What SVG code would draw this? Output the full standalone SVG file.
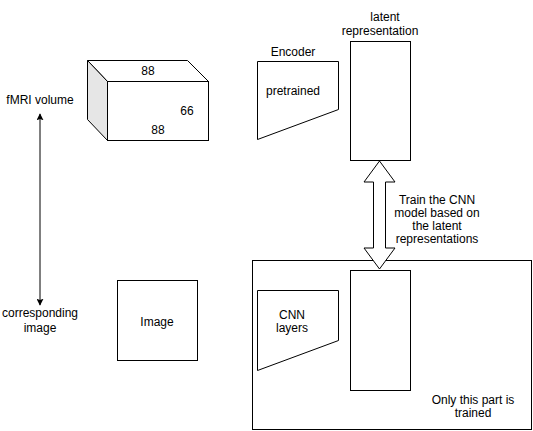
<svg xmlns="http://www.w3.org/2000/svg" width="533" height="431" viewBox="0 0 533 431">
<defs>
<style>
.s{fill:#fff;stroke:#000;stroke-width:1}
text{font-family:"Liberation Sans",Arial,sans-serif;font-size:12px;fill:#000;text-anchor:middle}
</style>
<marker id="ah" viewBox="0 0 10 10" refX="9" refY="5" markerWidth="7" markerHeight="7" orient="auto-start-reverse" markerUnits="userSpaceOnUse">
<path d="M0,0 L10,5 L0,10 L2,5 Z" fill="#000"/>
</marker>
</defs>
<rect width="533" height="431" fill="#fff"/>
<g id="cube">
<polygon points="87.5,60.5 187.5,60.5 208.5,81.5 107.5,81.5" class="s"/>
<polygon points="87.5,60.5 107.5,81.5 107.5,140.5 87.5,119.5" fill="#e6e6e6" stroke="#000"/>
<rect x="107.5" y="81.5" width="101" height="59" class="s"/>
<text x="148" y="75">88</text>
<text x="187" y="115">66</text>
<text x="158" y="134">88</text>
</g>
<g id="fmri-label"><text x="40" y="104">fMRI volume</text></g>
<g id="image-label"><text x="40" y="317">corresponding</text><text x="40" y="332">image</text></g>
<g id="image-box">
<rect x="117.5" y="280.5" width="80" height="80" class="s"/>
<text x="157" y="326">Image</text>
</g>
<g id="encoder">
<polygon points="257.5,61.5 338.5,61.5 338.5,109.5 257.5,139.5" class="s"/>
<text x="293" y="56">Encoder</text>
<text x="293" y="95">pretrained</text>
</g>
<g id="latent-top">
<rect x="350.5" y="41.5" width="60" height="119" class="s"/>
<text x="385" y="21">latent</text>
<text x="380" y="35">representation</text>
</g>
<g id="trained-part">
<rect x="252.5" y="260.5" width="279" height="169" class="s"/>
<text x="473" y="404">Only this part is</text>
<text x="473" y="417">trained</text>
</g>
<g id="latent-bottom">
<rect x="350.5" y="270.5" width="60" height="120" class="s"/>
</g>
<g id="cnn">
<polygon points="257.5,290.5 338.5,290.5 338.5,340.5 257.5,370.5" class="s"/>
<text x="292" y="319">CNN</text>
<text x="292" y="332">layers</text>
</g>
<g id="connectors">
<line x1="40" y1="114" x2="40" y2="305" stroke="#000" stroke-width="1" marker-start="url(#ah)" marker-end="url(#ah)"/>
<polygon points="379.5,161 395,182 385.5,182 385.5,248 395,248 379.5,269 364,248 373.5,248 373.5,182 364,182" class="s"/>
<text x="437" y="204">Train the CNN</text>
<text x="437" y="217">model based on</text>
<text x="437" y="230">the latent</text>
<text x="437" y="243">representations</text>
</g>
</svg>
